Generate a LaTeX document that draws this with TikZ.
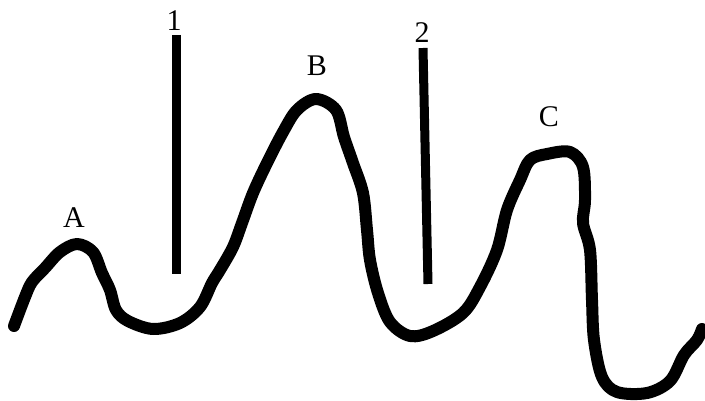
\documentclass[tikz,border=0pt]{standalone}
\usepackage{fontspec}
\setmainfont{Liberation Serif}
\tikzset{
  ridge/.style={line width=12pt, line join=round, line cap=round},
  bar/.style={line width=9pt},
  peaklabel/.style={font=\fontsize{30}{32}\selectfont, inner sep=0pt}
}
\begin{document}
\begin{tikzpicture}[x=1pt, y=-1pt]
    \useasboundingbox (0,0) rectangle (705,401);

    % Ridge profile
    \draw[ridge] plot[smooth, tension=0.55] coordinates {
      (14,326) (25,297) (32,282) (45,268) (60,252) (77,244) (93,252)
      (102,273) (110,290) (116,310) (128,321) (153,329) (180,323)
      (200,307) (212,283) (220,270) (233,247) (242,223) (253,193)
      (267,163) (283,132) (297,110) (316,99) (336,110) (344,137)
      (353,163) (363,193) (367,230) (370,260) (378,293) (390,322)
      (410,336) (433,331) (463,313) (480,287) (497,250) (507,210)
      (520,180) (530,160) (547,154) (570,152) (583,167) (585,200)
      (583,223) (590,250) (592,300) (594,340) (602,377) (617,392)
      (647,393) (670,381) (684,355) (697,340) (702,329)};

    % Peak labels
    \node[peaklabel] (A) at (74,218) {A};
    \node[peaklabel] (B) at (317,66) {B};
    \node[peaklabel] (C) at (549,117) {C};

    % Vertical bars
    \node[peaklabel] (n1) at (174,21) {1};
    \coordinate (bar1top) at (176,35);
    \coordinate (bar1bot) at (176,274);
    \draw[bar] (bar1top) -- (bar1bot);

    \node[peaklabel] (n2) at (422,33) {2};
    \coordinate (bar2top) at (423,48);
    \coordinate (bar2bot) at (428,284);
    \draw[bar] (bar2top) -- (bar2bot);
\end{tikzpicture}
\end{document}
